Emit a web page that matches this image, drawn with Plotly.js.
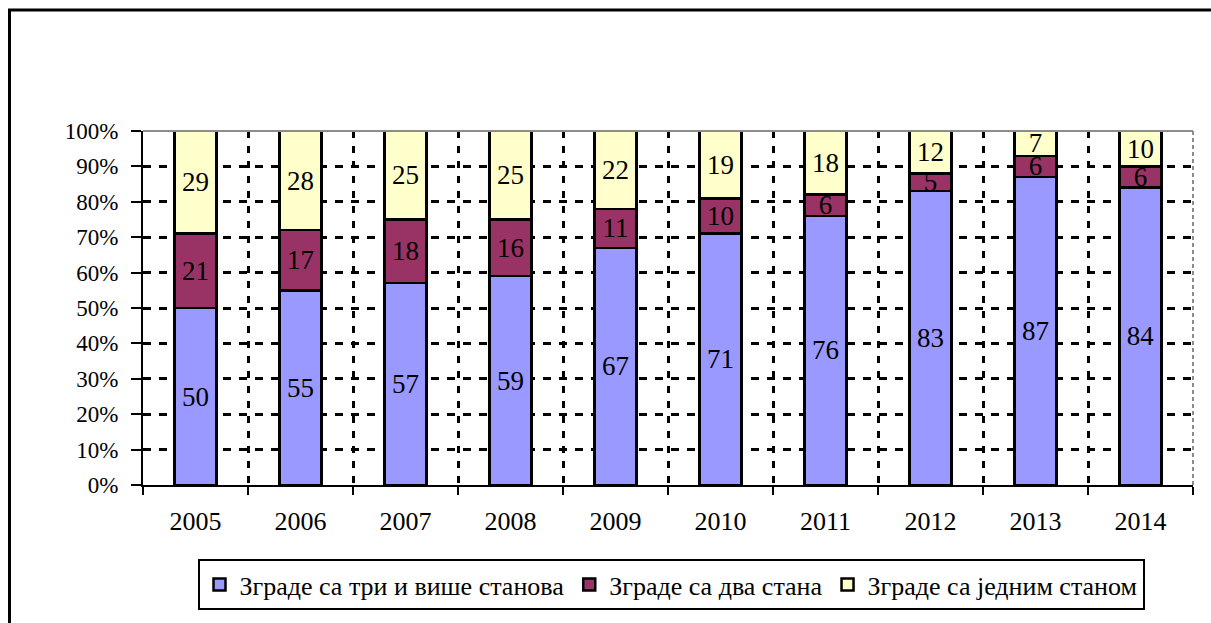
<!DOCTYPE html>
<html>
<head>
<meta charset="utf-8">
<script src="https://cdn.plot.ly/plotly-3.0.1.min.js"></script>
<style>
  html, body { margin: 0; padding: 0; background: #fff; }
  #chart { width: 1211px; height: 623px; }
</style>
</head>
<body>
<div id="chart"></div>
<script>
const years = ['2005','2006','2007','2008','2009','2010','2011','2012','2013','2014'];
const seriesNames = ['Зграде са три и више станова', 'Зграде са два стана', 'Зграде са једним станом'];
const threeOrMore = [50, 55, 57, 59, 67, 71, 76, 83, 87, 84];
const twoFlats    = [21, 17, 18, 16, 11, 10, 6, 5, 6, 6];
const oneFlat     = [29, 28, 25, 25, 22, 19, 18, 12, 7, 10];
const yTickVals   = [0, 10, 20, 30, 40, 50, 60, 70, 80, 90, 100];
const yTickText   = ['0%', '10%', '20%', '30%', '40%', '50%', '60%', '70%', '80%', '90%', '100%'];

const colors = ['#9999FF', '#993366', '#FFFFCC'];
const values = [threeOrMore, twoFlats, oneFlat];
const FONT = 'Liberation Serif, Times New Roman, serif';

const traces = values.map((v, i) => ({
  type: 'bar',
  name: seriesNames[i],
  x: years,
  y: v,
  text: v.map(String),
  texttemplate: '%{text}',
  marker: { color: colors[i], line: { color: '#000', width: 2.5 } },
  textposition: 'inside',
  insidetextanchor: 'middle',
  constraintext: 'none',
  textangle: 0,
  textfont: { family: FONT, size: 27, color: '#000' },
  hoverinfo: 'skip'
}));

// plot area in pixels: x 143..1193, y 131..485
const L = 143, R = 1193, T = 131, B = 485, W = 1211, H = 623;
const px2x = p => (p - L) / (R - L);
const px2y = p => (B - p) / (B - T);

const layout = {
  width: W, height: H,
  margin: { l: L, r: W - R, t: T, b: H - B, pad: 0, autoexpand: false },
  paper_bgcolor: '#fff',
  plot_bgcolor: '#fff',
  barmode: 'stack',
  bargap: 0.6,
  showlegend: true,
  font: { family: FONT, color: '#000' },
  xaxis: {
    type: 'category',
    automargin: false,
    tickson: 'boundaries',
    ticks: 'outside', ticklen: 8, tickwidth: 2, tickcolor: '#000',
    showline: true, linecolor: '#000', linewidth: 2,
    showgrid: true, gridcolor: '#000', gridwidth: 3, griddash: '7px,8px',
    tickfont: { family: FONT, size: 26, color: '#000' },
    ticklabelstandoff: 12,
    fixedrange: true
  },
  yaxis: {
    range: [0, 100],
    automargin: false,
    tickvals: yTickVals, ticktext: yTickText,
    ticks: 'outside', ticklen: 10, tickwidth: 2, tickcolor: '#000',
    showline: true, linecolor: '#000', linewidth: 2,
    showgrid: true, gridcolor: '#000', gridwidth: 3, griddash: '8px,8px',
    zeroline: false,
    tickfont: { family: FONT, size: 23, color: '#000' },
    ticklabelstandoff: 8,
    fixedrange: true
  },
  legend: {
    orientation: 'h',
    x: px2x(671), xanchor: 'center',
    y: px2y(559), yanchor: 'top',
    bordercolor: '#000', borderwidth: 2, bgcolor: '#fff',
    font: { family: FONT, size: 26, color: '#000' },
    traceorder: 'normal',
    itemwidth: 30,
    tracegroupgap: 0
  },
  shapes: [
    { type: 'rect', xref: 'paper', yref: 'paper', layer: 'above',
      x0: px2x(9.5), x1: px2x(1260), y0: px2y(700), y1: px2y(10),
      line: { color: '#000', width: 3 } },
    { type: 'line', xref: 'paper', yref: 'paper', layer: 'above',
      x0: 0, x1: 1, y0: 1, y1: 1, line: { color: '#8c8c8c', width: 2 } },
    { type: 'line', xref: 'paper', yref: 'paper', layer: 'above',
      x0: 1, x1: 1, y0: 0, y1: 1, line: { color: '#8c8c8c', width: 2, dash: '4px,3px' } }
  ]
};

Plotly.newPlot('chart', traces, layout, { displayModeBar: false, staticPlot: true });
</script>
</body>
</html>
